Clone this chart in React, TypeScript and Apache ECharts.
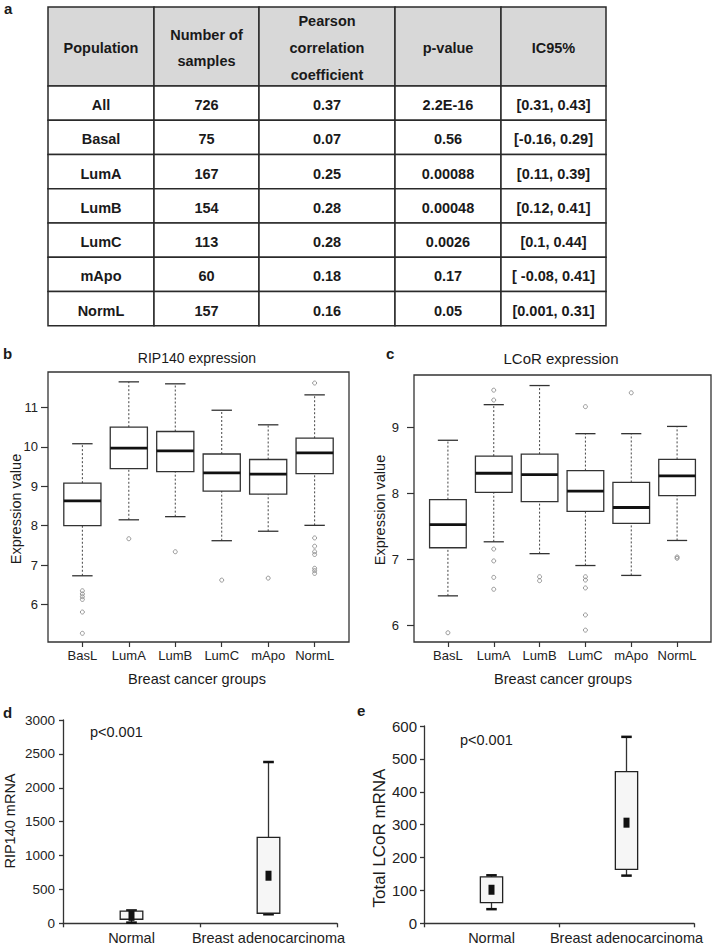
import React, { useEffect, useRef } from "react";
import * as echarts from "echarts";

const FONT = '"Liberation Sans", Arial, Helvetica, sans-serif';

// ---- Table (panel a) ----
const tableHeaders = [["Population"], ["Number of", "samples"], ["Pearson", "correlation", "coefficient"], ["p-value"], ["IC95%"]];
const populations = ["All", "Basal", "LumA", "LumB", "LumC", "mApo", "NormL"];
const sampleCounts = ["726", "75", "167", "154", "113", "60", "157"];
const pearson = ["0.37", "0.07", "0.25", "0.28", "0.28", "0.18", "0.16"];
const pValues = ["2.2E-16", "0.56", "0.00088", "0.00048", "0.0026", "0.17", "0.05"];
const ic95 = ["[0.31, 0.43]", "[-0.16, 0.29]", "[0.11, 0.39]", "[0.12, 0.41]", "[0.1, 0.44]", "[ -0.08, 0.41]", "[0.001, 0.31]"];

// ---- Panels b, c ----
const groups = ["BasL", "LumA", "LumB", "LumC", "mApo", "NormL"];
// [min whisker, Q1, median, Q3, max whisker]
const rip140Box = [
  [6.73, 8.0, 8.63, 9.08, 10.08],
  [8.15, 9.45, 9.97, 10.5, 11.65],
  [8.23, 9.37, 9.9, 10.39, 11.6],
  [7.62, 8.88, 9.34, 9.82, 10.93],
  [7.86, 8.8, 9.31, 9.68, 10.56],
  [8.01, 9.32, 9.85, 10.22, 11.32],
];
// [group index, value]
const rip140Outliers = [
  [0, 6.35], [0, 6.27], [0, 6.2], [0, 6.13], [0, 5.81], [0, 5.27],
  [1, 7.67], [2, 7.34], [3, 6.62], [4, 6.67],
  [5, 11.62], [5, 7.69], [5, 7.48], [5, 7.34], [5, 7.27], [5, 6.92], [5, 6.86], [5, 6.79],
];
const rip140Ticks = [6, 7, 8, 9, 10, 11];

const lcorBox = [
  [6.45, 7.18, 7.53, 7.91, 8.81],
  [7.27, 8.02, 8.31, 8.57, 9.35],
  [7.09, 7.88, 8.29, 8.6, 9.64],
  [6.91, 7.73, 8.04, 8.35, 8.91],
  [6.76, 7.55, 7.79, 8.17, 8.91],
  [7.29, 7.97, 8.27, 8.52, 9.02],
];
const lcorOutliers = [
  [0, 5.89],
  [1, 9.57], [1, 9.42], [1, 7.16], [1, 6.98], [1, 6.73], [1, 6.55],
  [2, 6.74], [2, 6.68],
  [3, 9.32], [3, 6.74], [3, 6.69], [3, 6.57], [3, 6.16], [3, 5.93],
  [4, 9.53],
  [5, 7.04], [5, 7.02],
];
const lcorTicks = [6, 7, 8, 9];

// ---- Panels d, e ----
const tissueGroups = ["Normal", "Breast adenocarcinoma"];
const rip140mRNA = [
  [10, 60, 110, 180, 190],
  [133, 148, 702, 1269, 2380],
];
const lcorMRNA = [
  [43, 63, 102, 141, 146],
  [145, 164, 306, 461, 567],
];

const groupPositions = groups.map((_, i) => i + 1);

function rBoxRender(params: any, api: any) {
  const x = api.value(0);
  const p = [1, 2, 3, 4, 5].map((k) => api.coord([x, api.value(k)]));
  const cx = p[0][0];
  const w = api.size([0.8, 0])[0];
  const cw = api.size([0.44, 0])[0];
  const dashed = { stroke: "#444", lineWidth: 1, lineDash: [2, 2] };
  const solid = { stroke: "#333", lineWidth: 1.3 };
  return {
    type: "group",
    children: [
      { type: "line", shape: { x1: cx, y1: p[3][1], x2: cx, y2: p[4][1] }, style: dashed },
      { type: "line", shape: { x1: cx, y1: p[0][1], x2: cx, y2: p[1][1] }, style: dashed },
      { type: "line", shape: { x1: cx - cw / 2, y1: p[4][1], x2: cx + cw / 2, y2: p[4][1] }, style: solid },
      { type: "line", shape: { x1: cx - cw / 2, y1: p[0][1], x2: cx + cw / 2, y2: p[0][1] }, style: solid },
      { type: "rect", shape: { x: cx - w / 2, y: p[3][1], width: w, height: p[1][1] - p[3][1] }, style: { fill: "#fff", stroke: "#333", lineWidth: 1.3 } },
      { type: "line", shape: { x1: cx - w / 2, y1: p[2][1], x2: cx + w / 2, y2: p[2][1] }, style: { stroke: "#111", lineWidth: 2.8 } },
    ],
  };
}

function simpleBoxRender(params: any, api: any) {
  const i = api.value(0);
  const p = [1, 2, 3, 4, 5].map((k) => api.coord([i, api.value(k)]));
  const cx = p[0][0];
  const band = api.size([1, 0])[0];
  const w = band * 0.165;
  const cw = band * 0.078;
  const solid = { stroke: "#333", lineWidth: 1.3 };
  const cap = { stroke: "#111", lineWidth: 2.5 };
  return {
    type: "group",
    children: [
      { type: "line", shape: { x1: cx, y1: p[3][1], x2: cx, y2: p[4][1] }, style: solid },
      { type: "line", shape: { x1: cx, y1: p[0][1], x2: cx, y2: p[1][1] }, style: solid },
      { type: "line", shape: { x1: cx - cw / 2, y1: p[4][1], x2: cx + cw / 2, y2: p[4][1] }, style: cap },
      { type: "line", shape: { x1: cx - cw / 2, y1: p[0][1], x2: cx + cw / 2, y2: p[0][1] }, style: cap },
      { type: "rect", shape: { x: cx - w / 2, y: p[3][1], width: w, height: p[1][1] - p[3][1] }, style: { fill: "#f6f6f6", stroke: "#222", lineWidth: 1.3 } },
      { type: "rect", shape: { x: cx - 3, y: p[2][1] - 5, width: 6, height: 10 }, style: { fill: "#111" } },
    ],
  };
}

function text(t: string, x: number, y: number, size: number, opts: any = {}) {
  return {
    type: "text",
    x,
    y,
    rotation: opts.rotation || 0,
    style: {
      text: t,
      fill: opts.fill || "#1a1a1a",
      fontSize: size,
      fontWeight: opts.bold ? "bold" : "normal",
      fontFamily: FONT,
      align: opts.align || "center",
      verticalAlign: "middle",
    },
  };
}

function buildTable() {
  const colEdges = [48, 154, 259, 395, 501, 606];
  const tableTop = 7;
  const headerH = 79;
  const rowH = 34.25;
  const columns = [populations, sampleCounts, pearson, pValues, ic95];
  const els: any[] = [];
  for (let c = 0; c < columns.length; c++) {
    const x0 = colEdges[c];
    const w = colEdges[c + 1] - x0;
    els.push({ type: "rect", shape: { x: x0, y: tableTop, width: w, height: headerH }, style: { fill: "#d8d8d8", stroke: "#2a2a2a", lineWidth: 1.5 } });
    const lines = tableHeaders[c];
    const lineGap = 26.7;
    const cy = tableTop + 41;
    lines.forEach((ln, k) => {
      els.push(text(ln, x0 + w / 2, cy + (k - (lines.length - 1) / 2) * lineGap, 14.5, { bold: true }));
    });
    columns[c].forEach((val, r) => {
      const y0 = tableTop + headerH + r * rowH;
      els.push({ type: "rect", shape: { x: x0, y: y0, width: w, height: rowH }, style: { fill: "#fff", stroke: "#2a2a2a", lineWidth: 1.5 } });
      els.push(text(val, x0 + w / 2, y0 + rowH / 2 + 2, 14.5, { bold: true }));
    });
  }
  return els;
}

function buildOption() {
  const axisColor = "#333";
  const labelColor = "#222";
  const graphic = [
    ...buildTable(),
    text("a", 4, 8, 15, { bold: true, align: "left" }),
    text("b", 3, 353, 15, { bold: true, align: "left" }),
    text("c", 386, 353, 15, { bold: true, align: "left" }),
    text("d", 3, 712, 15, { bold: true, align: "left" }),
    text("e", 357, 710, 15, { bold: true, align: "left" }),
    text("RIP140 expression", 197, 358, 14),
    text("LCoR expression", 561, 358, 15),
    text("Expression value", 16, 509, 14.5, { rotation: Math.PI / 2 }),
    text("Expression value", 380, 510, 14.5, { rotation: Math.PI / 2 }),
    text("Breast cancer groups", 197, 679, 14.5),
    text("Breast cancer groups", 563, 679, 14.5),
    text("RIP140 mRNA", 10, 821, 14.5, { rotation: Math.PI / 2 }),
    text("Total LCoR mRNA", 379, 838, 17, { rotation: Math.PI / 2 }),
    text("p<0.001", 90, 732, 14.5, { align: "left" }),
    text("p<0.001", 460, 740, 14.5, { align: "left" }),
  ];

  const frameGrid = { show: true, borderColor: axisColor, borderWidth: 1.3, backgroundColor: "transparent", containLabel: false, outerBoundsMode: "none" };
  const plainGrid = { show: false, containLabel: false, outerBoundsMode: "none" };

  const groupXAxis = (gridIndex: number) => ({
    gridIndex,
    type: "value",
    min: 0.26,
    max: 6.74,
    axisLine: { show: false },
    splitLine: { show: false },
    axisTick: { show: true, length: 5, inside: false, customValues: groupPositions, lineStyle: { color: axisColor, width: 1.2 } },
    axisLabel: {
      customValues: groupPositions,
      formatter: (v: number) => groups[Math.round(v) - 1] ?? "",
      margin: 7,
      fontSize: 13,
      color: labelColor,
      fontFamily: FONT,
    },
  });

  const exprYAxis = (gridIndex: number, min: number, max: number, ticks: number[], margin: number) => ({
    gridIndex,
    type: "value",
    min,
    max,
    axisLine: { show: false },
    splitLine: { show: false },
    axisTick: { show: true, length: 7, inside: false, customValues: ticks, lineStyle: { color: axisColor, width: 1.2 } },
    axisLabel: { customValues: ticks, margin, fontSize: 13, color: labelColor, fontFamily: FONT },
  });

  const tissueXAxis = (gridIndex: number) => ({
    gridIndex,
    type: "category",
    data: tissueGroups,
    boundaryGap: true,
    axisLine: { show: true, lineStyle: { color: axisColor, width: 1.3 } },
    axisTick: { show: true, length: 4, inside: false, lineStyle: { color: axisColor, width: 1.3 } },
    axisLabel: { interval: 0, margin: 7, fontSize: 14.5, color: labelColor, fontFamily: FONT },
    splitLine: { show: false },
  });

  const mrnaYAxis = (gridIndex: number, max: number, interval: number, fontSize: number, margin: number) => ({
    gridIndex,
    type: "value",
    min: 0,
    max,
    interval,
    axisLine: { show: true, lineStyle: { color: axisColor, width: 1.3 } },
    axisTick: { show: true, length: 4, inside: false, lineStyle: { color: axisColor, width: 1.3 } },
    axisLabel: { margin, fontSize, color: labelColor, fontFamily: FONT, formatter: (v: number) => String(v) },
    splitLine: { show: false },
  });

  const outlierStyle = { color: "rgba(0,0,0,0)", borderColor: "#808080", borderWidth: 1 };

  return {
    animation: false,
    textStyle: { fontFamily: FONT },
    graphic,
    grid: [
      { ...frameGrid, left: 48, top: 372, width: 301, height: 270 },
      { ...frameGrid, left: 414, top: 375, width: 297, height: 267 },
      { ...plainGrid, left: 63, top: 720, width: 274, height: 203.3 },
      { ...plainGrid, left: 424, top: 726, width: 270, height: 197.3 },
    ],
    xAxis: [groupXAxis(0), groupXAxis(1), tissueXAxis(2), tissueXAxis(3)],
    yAxis: [
      exprYAxis(0, 5.05, 11.9, rip140Ticks, 10),
      exprYAxis(1, 5.75, 9.8, lcorTicks, 15),
      mrnaYAxis(2, 3000, 500, 13.5, 8),
      mrnaYAxis(3, 600, 100, 15, 7),
    ],
    series: [
      {
        type: "custom",
        xAxisIndex: 0,
        yAxisIndex: 0,
        renderItem: rBoxRender,
        encode: { x: 0, y: [1, 2, 3, 4, 5] },
        data: rip140Box.map((b, i) => [i + 1, ...b]),
        z: 2,
      },
      {
        type: "scatter",
        xAxisIndex: 0,
        yAxisIndex: 0,
        symbol: "circle",
        symbolSize: 4,
        itemStyle: outlierStyle,
        data: rip140Outliers.map(([g, v]) => [g + 1, v]),
        z: 3,
      },
      {
        type: "custom",
        xAxisIndex: 1,
        yAxisIndex: 1,
        renderItem: rBoxRender,
        encode: { x: 0, y: [1, 2, 3, 4, 5] },
        data: lcorBox.map((b, i) => [i + 1, ...b]),
        z: 2,
      },
      {
        type: "scatter",
        xAxisIndex: 1,
        yAxisIndex: 1,
        symbol: "circle",
        symbolSize: 4,
        itemStyle: outlierStyle,
        data: lcorOutliers.map(([g, v]) => [g + 1, v]),
        z: 3,
      },
      {
        type: "custom",
        xAxisIndex: 2,
        yAxisIndex: 2,
        renderItem: simpleBoxRender,
        encode: { x: 0, y: [1, 2, 3, 4, 5] },
        data: rip140mRNA.map((b, i) => [i, ...b]),
        clip: false,
      },
      {
        type: "custom",
        xAxisIndex: 3,
        yAxisIndex: 3,
        renderItem: simpleBoxRender,
        encode: { x: 0, y: [1, 2, 3, 4, 5] },
        data: lcorMRNA.map((b, i) => [i, ...b]),
        clip: false,
      },
    ],
  };
}

export default function App() {
  const ref = useRef<HTMLDivElement>(null);
  useEffect(() => {
    document.body.style.margin = "0";
    const chart = echarts.init(ref.current as HTMLDivElement, null, { renderer: "svg" });
    chart.setOption(buildOption() as any);
    return () => chart.dispose();
  }, []);
  return <div ref={ref} style={{ width: 713, height: 946, background: "#fff" }} />;
}
